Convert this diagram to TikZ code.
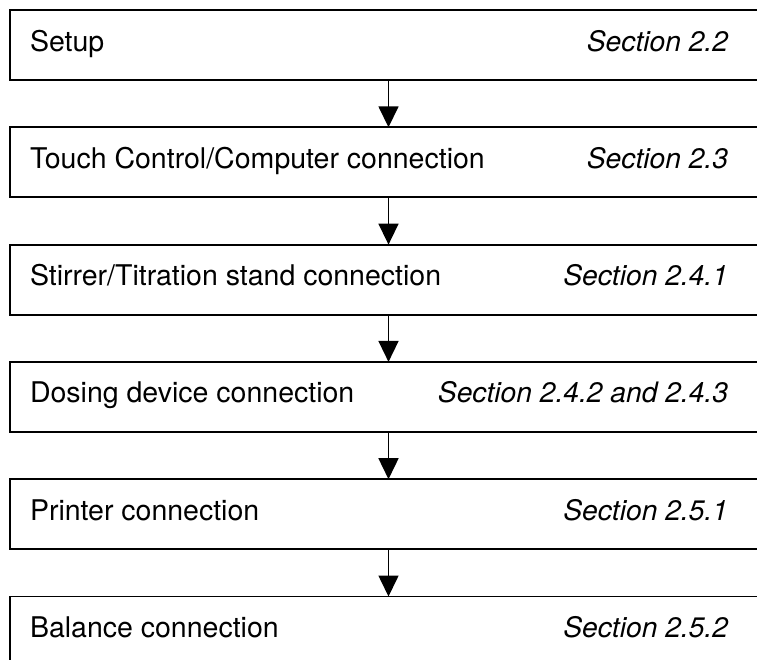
\documentclass[tikz,border=0pt]{standalone}
\usepackage{fontspec}
\setmainfont{TeX Gyre Heros}
\usetikzlibrary{arrows.meta}
\begin{document}
\begin{tikzpicture}[x=1pt,y=-1pt,
  stepbox/.style={draw=black, line width=1.8pt, rectangle, minimum width=757pt, minimum height=70pt, anchor=north west, inner sep=0pt, outer sep=0pt},
  lefttext/.style={anchor=base west, font=\fontsize{28.5}{34}\selectfont, inner sep=0pt, outer sep=0pt},
  righttext/.style={anchor=base east, font=\fontsize{28.2}{34}\selectfont\itshape, inner sep=0pt, outer sep=0pt},
  flow/.style={line width=1.6pt, -{Triangle[width=20pt,length=21pt]}}]
\useasboundingbox (0,0) rectangle (757,659);
\clip (0,0) rectangle (757,659);
\node[stepbox] (b1) at (10,10) {};
\node[stepbox] (b2) at (10,127.3) {};
\node[stepbox] (b3) at (10,244.6) {};
\node[stepbox] (b4) at (10,361.9) {};
\node[stepbox] (b5) at (10,479.2) {};
\node[stepbox] (b6) at (10,596.5) {};
\draw[flow] (b1.south) -- (b2.north);
\draw[flow] (b2.south) -- (b3.north);
\draw[flow] (b3.south) -- (b4.north);
\draw[flow] (b4.south) -- (b5.north);
\draw[flow] (b5.south) -- (b6.north);
\node[lefttext] (t1) at (30,51) {Setup};
\node[righttext] (s1) at (728,51) {Section 2.2};
\node[lefttext] (t2) at (30,168.3) {Touch Control/Computer connection};
\node[righttext] (s2) at (728,168.3) {Section 2.3};
\node[lefttext] (t3) at (30,285.6) {Stirrer/Titration stand connection};
\node[righttext] (s3) at (728,285.6) {Section 2.4.1};
\node[lefttext] (t4) at (30,402.9) {Dosing device connection};
\node[righttext] (s4) at (728,402.9) {Section 2.4.2 and 2.4.3};
\node[lefttext] (t5) at (30,520.2) {Printer connection};
\node[righttext] (s5) at (728,520.2) {Section 2.5.1};
\node[lefttext] (t6) at (30,637.5) {Balance connection};
\node[righttext] (s6) at (728,637.5) {Section 2.5.2};
\end{tikzpicture}
\end{document}
